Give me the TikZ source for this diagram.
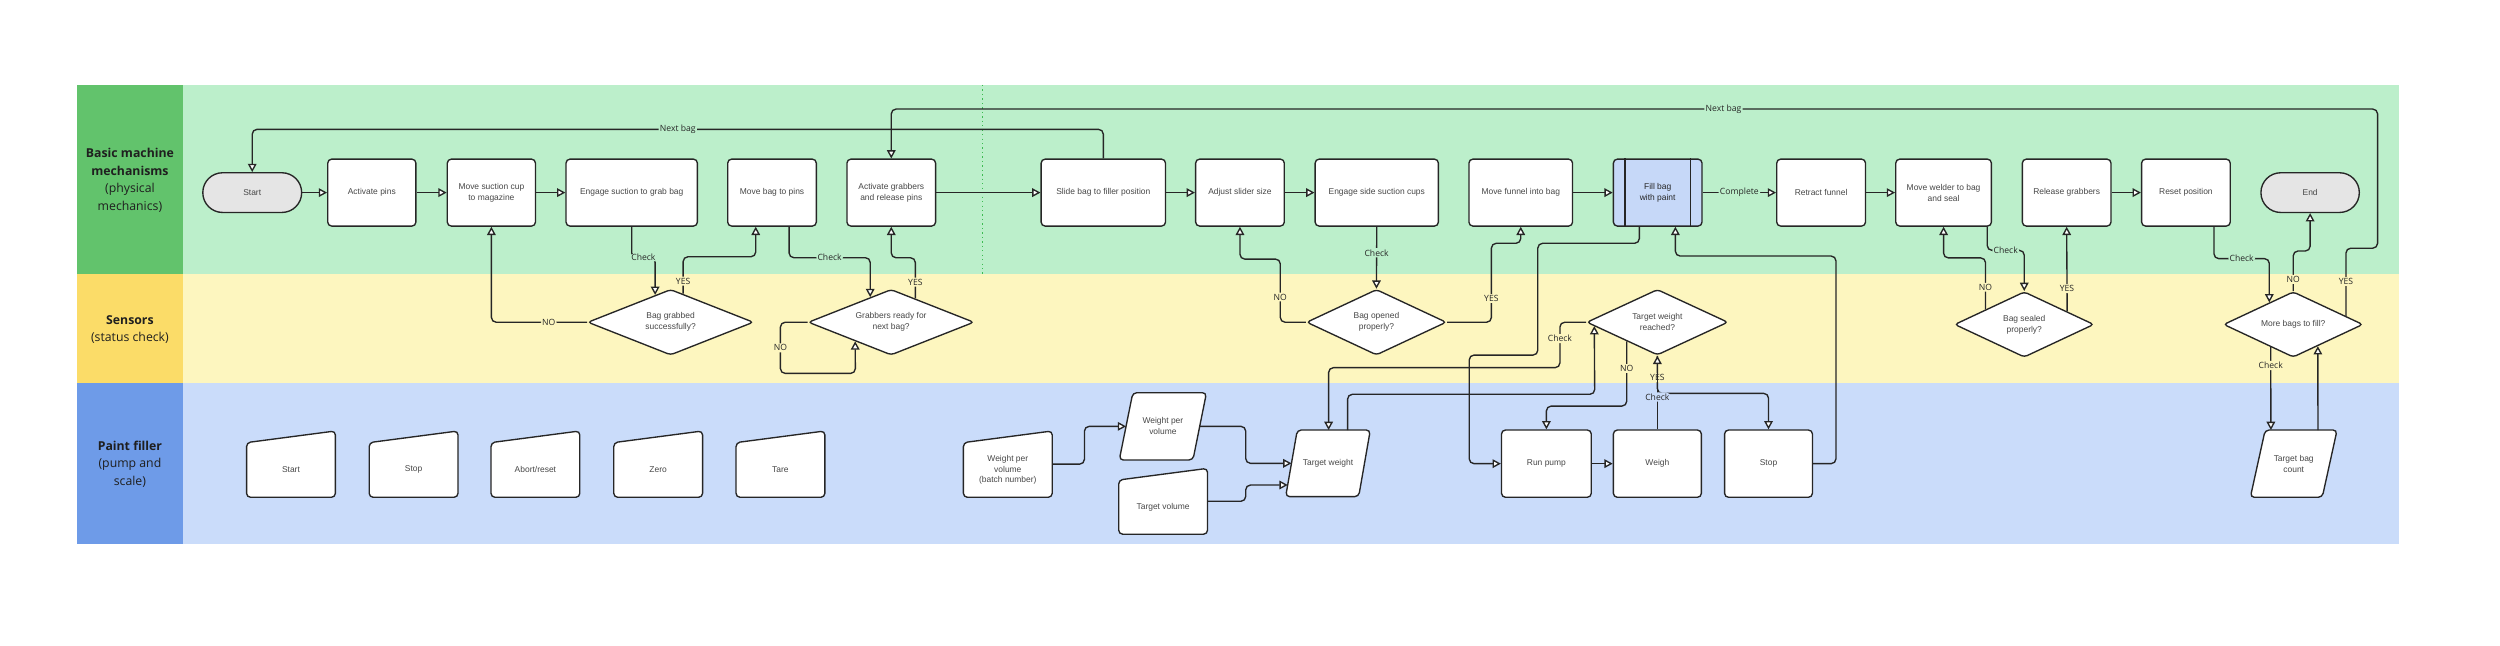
\documentclass[tikz,border=0pt]{standalone}
\usepackage{fontspec}
\setmainfont{Liberation Sans}
\newfontfamily\osans{Open Sans}
\usetikzlibrary{arrows.meta,shapes.geometric,calc}
\definecolor{hdG}{HTML}{62C36C}
\definecolor{bgG}{HTML}{BCEFCB}
\definecolor{hdY}{HTML}{FBDC68}
\definecolor{bgY}{HTML}{FDF6BF}
\definecolor{hdB}{HTML}{6E9BE8}
\definecolor{bgB}{HTML}{CADCFA}
\definecolor{fillBag}{HTML}{C6D8F8}
\definecolor{termC}{HTML}{E5E5E5}
\definecolor{ink}{HTML}{262626}
\definecolor{txt}{HTML}{474747}
\definecolor{dotG}{HTML}{3DBB52}

\newcommand\boxfont{\fontsize{5.3}{6.8}\selectfont}
\newcommand\lblfont{\osans\fontsize{5.4}{6}\selectfont}
\newcommand\hdrfont{\osans\fontsize{7.7}{11}\selectfont}

\tikzset{
  shp/.style={draw=ink, line width=0.85pt, fill=white, rounded corners=2.5pt},
  proc/.style={shp, minimum height=42pt, inner sep=1pt, align=center, font=\boxfont, text=txt},
  term/.style={proc, fill=termC, rounded corners=12.4pt, minimum height=24.9pt},
  dec/.style={diamond, shp, rounded corners=2pt, aspect=2.5, inner sep=0pt, align=center, font=\boxfont, text=txt},
  ghost/.style={inner sep=0pt, outer sep=0pt},
  ptxt/.style={align=center, font=\boxfont, text=txt, inner sep=0pt},
  conn/.style={draw=ink, line width=0.85pt, rounded corners=3pt, -{Triangle[length=5.2pt,width=5.4pt,fill=white]}},
  lbl/.style={font=\lblfont, text=ink, inner sep=0.8pt},
  lblG/.style={lbl, fill=bgG},
  lblY/.style={lbl, fill=bgY},
  lblB/.style={lbl, fill=bgB},
  hdr/.style={font=\hdrfont, align=center, text=black!88},
}

\newcommand\maninput[6]{%
  \node[ghost, minimum width=#4pt, minimum height=#5pt] (#1) at (#2,#3) {};
  \draw[shp] ([yshift=-7.3pt]#1.north west) -- (#1.north east) -- (#1.south east) -- (#1.south west) -- cycle;
  \node[ptxt] at ([yshift=-3.6pt]#1.center) {#6};
}
\newcommand\parabox[7]{%
  \node[ghost, minimum width=#4pt, minimum height=#5pt] (#1) at (#2,#3) {};
  \coordinate (#1-bl) at (#1.south west);
  \coordinate (#1-tl) at ([xshift=#6pt]#1.north west);
  \coordinate (#1-tr) at (#1.north east);
  \coordinate (#1-br) at ([xshift=-#6pt]#1.south east);
  \coordinate (#1-w) at ($(#1-bl)!0.5!(#1-tl)$);
  \coordinate (#1-e) at ($(#1-br)!0.5!(#1-tr)$);
  \draw[shp] (#1-bl) -- (#1-tl) -- (#1-tr) -- (#1-br) -- cycle;
  \node[ptxt] at (#1.center) {#7};
}

\begin{document}
\begin{tikzpicture}[x=1pt,y=-1pt]
\fill[white] (0,0) rectangle (1568,404.55);
\useasboundingbox (0,0) rectangle (1568,404.55);

% lanes
\fill[bgG] (115,53.3) rectangle (1504.7,172);
\fill[hdG] (48,53.3) rectangle (115,172);
\fill[bgY] (115,172) rectangle (1504.7,240.2);
\fill[hdY] (48,172) rectangle (115,240.2);
\fill[bgB] (115,240.2) rectangle (1504.7,341.2);
\fill[hdB] (48,240.2) rectangle (115,341.2);
\draw[dotG, dotted, line width=0.8pt] (616.1,53.3) -- (616.1,172);

\node[hdr] (hG) at (81.5,113) {\textbf{Basic machine}\\\textbf{mechanisms}\\(physical\\mechanics)};
\node[hdr] (hY) at (81.5,206.6) {\textbf{Sensors}\\(status check)};
\node[hdr] (hB) at (81.5,291) {\textbf{Paint filler}\\(pump and\\scale)};

% top row
\node[term, minimum width=62pt] (start) at (158.2,120.8) {Start};
\node[proc, minimum width=55.3pt] (act) at (233.2,120.8) {Activate pins};
\node[proc, minimum width=55.3pt] (suction) at (308.2,120.8) {Move suction cup\\to magazine};
\node[proc, minimum width=82.4pt] (engage) at (396.2,120.8) {Engage suction to grab bag};
\node[proc, minimum width=55.6pt] (pins) at (484.2,120.8) {Move bag to pins};
\node[proc, minimum width=55.6pt] (grab) at (559,120.8) {Activate grabbers\\and release pins};
\node[proc, minimum width=78pt] (slide) at (692,120.8) {Slide bag to filler position};
\node[proc, minimum width=55.6pt] (adjust) at (777.7,120.8) {Adjust slider size};
\node[proc, minimum width=77.3pt] (eside) at (863.5,120.8) {Engage side suction cups};
\node[proc, minimum width=65pt] (funnel) at (953.8,120.8) {Move funnel into bag};
\node[proc, minimum width=55.6pt, fill=fillBag, text=ink] (fill) at (1039.7,120.8) {Fill bag\\with paint};
\draw[draw=ink, line width=0.85pt] ($(fill.north west)+(7.7,0)$) -- ($(fill.south west)+(7.7,0)$);
\draw[draw=ink, line width=0.85pt] ($(fill.north east)+(-7.8,0)$) -- ($(fill.south east)+(-7.8,0)$);
\node[proc, minimum width=55.7pt] (retract) at (1142.2,120.8) {Retract funnel};
\node[proc, minimum width=60pt] (welder) at (1219,120.8) {Move welder to bag\\and seal};
\node[proc, minimum width=55.6pt] (release) at (1296.2,120.8) {Release grabbers};
\node[proc, minimum width=55.6pt] (reset) at (1371,120.8) {Reset position};
\node[term, minimum width=61.7pt] (end) at (1448.9,120.8) {End};

% decisions
\node[dec, minimum width=104pt, minimum height=41.2pt] (dG) at (420.6,202.1) {Bag grabbed\\successfully?};
\node[dec, minimum width=104pt, minimum height=41.2pt] (dR) at (558.9,202.1) {Grabbers ready for\\next bag?};
\node[dec, minimum width=87.7pt, minimum height=41.2pt] (dO) at (863.3,202.1) {Bag opened\\properly?};
\node[dec, minimum width=88.6pt, minimum height=41.2pt] (dT) at (1039.5,202.1) {Target weight\\reached?};
\node[dec, minimum width=87.4pt, minimum height=41.1pt] (dS) at (1269.6,203.5) {Bag sealed\\properly?};
\node[dec, minimum width=87.4pt, minimum height=41.1pt] (dM) at (1438.3,203.5) {More bags to fill?};

% paint filler lane
\maninput{mStart}{182.5}{291.1}{55.7}{41.6}{Start}
\maninput{mStop}{259.4}{291.1}{55.7}{41.6}{Stop}
\maninput{mAbort}{335.8}{291.1}{55.7}{41.6}{Abort/reset}
\maninput{mZero}{412.8}{291.1}{55.7}{41.6}{Zero}
\maninput{mTare}{489.5}{291.1}{55.7}{41.6}{Tare}
\maninput{mWPVB}{632.1}{291.1}{55.7}{41.6}{Weight per\\volume\\(batch number)}
\maninput{mTV}{729.5}{314.4}{55.7}{41.3}{Target volume}
\parabox{wpv}{729.35}{267.4}{54.7}{42.2}{8.5}{Weight per\\volume}
\parabox{tw}{832.9}{290.6}{53.1}{41.8}{7.3}{Target weight}
\parabox{tbc}{1438.6}{290.8}{54.4}{42.2}{9.3}{Target bag\\count}
\node[proc, minimum width=56.3pt, minimum height=42.2pt] (runpump) at (969.9,290.8) {Run pump};
\node[proc, minimum width=55.2pt, minimum height=42.2pt] (weigh) at (1039.5,290.8) {Weigh};
\node[proc, minimum width=55.1pt, minimum height=42.2pt] (pstop) at (1109.2,290.8) {Stop};

% straight flow
\draw[conn] (start.east) -- (act.west);
\draw[conn] (act.east) -- (suction.west);
\draw[conn] (suction.east) -- (engage.west);
\draw[conn] (grab.east) -- (slide.west);
\draw[conn] (slide.east) -- (adjust.west);
\draw[conn] (adjust.east) -- (eside.west);
\draw[conn] (funnel.east) -- (fill.west);
\draw[conn] (fill.east) -- node[lblG]{Complete} (retract.west);
\draw[conn] (retract.east) -- (welder.west);
\draw[conn] (release.east) -- (reset.west);
\draw[conn] (runpump.east) -- (weigh.west);

% next bag loop 1
\draw[conn] (slide.north) |- node[lblG,pos=0.75]{Next bag} ($(start.north)+(0,-26.8)$) -- (start.north);

% bag grabbing
\draw[conn] (engage.south) -- ++(0,19.4) -| node[lblG,pos=0.25]{Check} ($(dG.north)!0.185!(dG.west)$);
\draw[conn] ($(dG.north)!0.15!(dG.east)$) -- node[lblY,pos=0.34]{YES} ++(0,-23.2) -| ($(pins.south)+(-10.2,0)$);
\draw[conn] (dG.west) -| node[lblY,pos=0.2]{NO} (suction.south);
\draw[conn] ($(pins.south)+(10.7,0)$) -- ++(0,19.4) -| node[lblG,pos=0.25]{Check} ($(dR.north)!0.25!(dR.west)$);
\draw[conn] ($(dR.north)!0.29!(dR.east)$) -- node[lblY,pos=0.4]{YES} ++(0,-25.5) -| (grab.south);
\draw[conn] (dR.west) -- ++(-17,0) |- node[lblY,pos=0.25]{NO} (536.5,234.2) -- ($(dR.south)!0.43!(dR.west)$);

% bag opening
\draw[conn] (eside.south) -- node[lblG,pos=0.42]{Check} (dO.north);
\draw[conn] (dO.west) -| node[lblY,pos=0.7]{NO} (803,162.5) -| (adjust.south);
\draw[conn] (dO.east) -| node[lblY,pos=0.65]{YES} (935.4,152.6) -| (funnel.south);

% filling
\draw[conn] ($(fill.south)+(-11.5,0)$) |- (964.5,152.6) |- (921.5,222.7) |- (runpump.west);
\draw[conn] (pstop.east) -| (1151.5,160.6) -| ($(fill.south)+(11.1,0)$);
\draw[conn] (dT.west) -- ++(-16.4,0) |- node[lblY,pos=0.18]{Check} ($(tw.north)+(0.4,-39.1)$) -- ($(tw.north)+(0.4,0)$);
\draw[conn] ($(tw.north)+(12.3,0)$) |- (1000.2,247.3) -- ($(dT.south)!0.885!(dT.west)$);
\draw[conn] ($(dT.south)!0.43!(dT.west)$) -- node[lblY,pos=0.42]{NO} ++(0,40.6) -| (runpump.north);
\draw[conn] (dT.south) -- node[lblY,pos=0.58]{YES} ++(0,23.6) -| (pstop.north);
\draw[conn] (weigh.north) -- node[lblB,pos=0.44]{Check} (dT.south);

% sealing
\draw[conn] ($(welder.south)+(27.4,0)$) -- ++(0,14.8) -| node[lblG,pos=0.25]{Check} (dS.north);
\draw[conn] ($(dS.north)!0.55!(dS.west)$) -- node[lblY,pos=0.43]{NO} ++(0,-32.3) -| (welder.south);
\draw[conn] ($(dS.north)!0.61!(dS.east)$) -- node[lblY,pos=0.27]{YES} (release.south);

% more bags
\draw[conn] ($(reset.south)+(17.6,0)$) -- ++(0,20) -| node[lblG,pos=0.25]{Check} ($(dM.north)!0.34!(dM.west)$);
\draw[conn] (dM.north) -- node[lblY,pos=0.29]{NO} ++(0,-25.1) -| (end.south);
\draw[conn] ($(dM.north)!0.75!(dM.east)$) -- node[lblY,pos=0.51]{YES} ++(0,-42.6) -| (1491.2,68.4) -| node[lblG,pos=0.22]{Next bag} (grab.north);
\draw[conn] ($(dM.south)!0.32!(dM.west)$) -- node[lblY,pos=0.22]{Check} ($(tbc.north west)+(12.9,0)$);
\draw[conn] ($(tbc.north west)+(42.4,0)$) -- ($(dM.south)!0.35!(dM.east)$);

% target weight inputs
\draw[conn] (mWPVB.east) -- ++(20.2,0) |- (wpv-w);
\draw[conn] (wpv-e) -| (781.3,290.6) -- (tw-w);
\draw[conn] (mTV.east) -| (781.3,304.2) -- ($(tw-bl)!0.175!(tw-tl)$);
\end{tikzpicture}
\end{document}
